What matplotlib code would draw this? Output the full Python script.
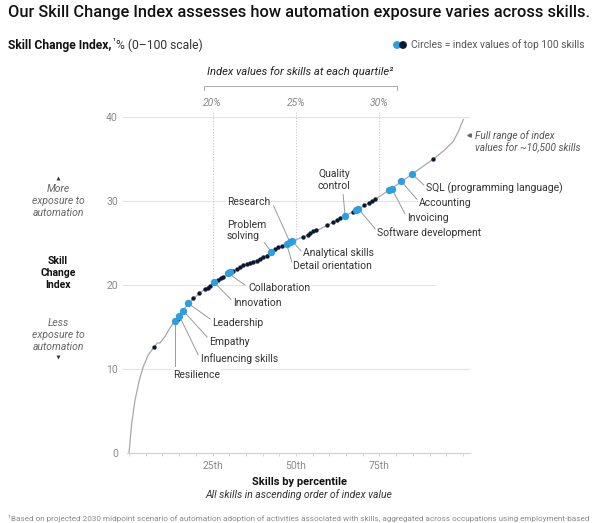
import matplotlib
matplotlib.use("Agg")
import matplotlib.pyplot as plt

plt.rcParams['font.family'] = ['Roboto', 'DejaVu Sans']

# ---- data ----
# full curve of index values (~10,500 skills), percentile -> index
curve_pct = [0, 0.8, 1.8, 3.1, 4.3, 5.8, 7.3, 8.5, 9.3, 10.8, 12.3, 13.8, 17.8, 21.0,
             25.5, 30.0, 35.2, 40.2, 45.7, 48.9, 53.5, 59.4, 64.7, 68.7, 73.7, 78.7,
             84.8, 91.1, 94.6, 97.1, 98.6, 100.1]
curve_val = [0, 3.5, 6.3, 8.7, 10.3, 11.7, 12.5, 13.1, 13.1, 13.9, 14.9, 15.75, 17.8, 19.0,
             20.3, 21.4, 22.5, 23.3, 24.6, 25.2, 25.95, 27.1, 28.25, 29.05, 30.2, 31.5,
             33.2, 35.0, 36.1, 37.1, 38.25, 39.7]

# top-100 skills without a label (dark dots)
dark_pct = [7.6, 14.8, 19.3, 21.0, 22.8, 23.6, 24.3, 26.7, 27.5, 28.2, 31.2, 32.3, 33.2,
            34.2, 35.2, 36.2, 37.2, 38.2, 39.2, 40.2, 41.2, 43.7, 44.7, 45.7, 52.2, 53.5,
            54.2, 55.2, 55.9, 59.4, 61.2, 62.2, 63.2, 67.2, 70.5, 71.9, 72.8, 73.7, 91.1]
dark_val = [12.6, 16.0, 18.4, 19.0, 19.5, 19.7, 19.9, 20.6, 20.8, 21.0, 21.7, 21.9, 22.2,
            22.35, 22.5, 22.6, 22.75, 22.9, 23.1, 23.3, 23.5, 24.25, 24.5, 24.65, 25.75, 25.95,
            26.25, 26.45, 26.55, 27.15, 27.55, 27.75, 27.95, 28.75, 29.5, 29.8, 30.05, 30.25, 35.0]

# top-100 skills highlighted (blue dots)
blue_pct = [13.8, 15.1, 16.3, 17.8, 25.5, 29.7, 30.2, 42.5, 47.2, 48.2, 48.9,
            64.7, 68.0, 68.7, 77.8, 78.7, 81.4, 84.8]
blue_val = [15.75, 16.3, 16.9, 17.8, 20.3, 21.4, 21.55, 23.96, 24.88, 25.08, 25.24,
            28.25, 28.93, 29.05, 31.3, 31.46, 32.4, 33.2]

# labelled skills and the dot each one points to
skill_names = ["Resilience", "Influencing skills", "Empathy", "Leadership", "Innovation",
               "Collaboration", "Problem\nsolving", "Research", "Analytical skills",
               "Detail orientation", "Quality\ncontrol", "Software development",
               "Invoicing", "Accounting", "SQL (programming language)"]
skill_pct = [13.8, 15.1, 16.3, 17.8, 25.5, 29.7, 42.5, 48.2, 48.9, 47.2, 64.7, 68.7, 78.7, 81.4, 84.8]
skill_val = [15.75, 16.3, 16.9, 17.8, 20.3, 21.4, 23.96, 25.08, 25.24, 24.88, 28.25, 29.05, 31.46, 32.4, 33.2]

quartile_pct = [25, 50, 75]
quartile_val = [20, 25, 30]
quartile_labels = ["20%", "25%", "30%"]
x_tick_labels = {25: "25th", 50: "50th", 75: "75th"}
y_ticks = [0, 10, 20, 30, 40]

# label layout: (text x, text y, leader end x, leader end y, ha)
label_layout = [
    (13.2, 9.3, 13.8, 10.4, 'left'),
    (21.6, 11.2, 20.7, 11.7, 'left'),
    (24.0, 13.2, 23.4, 13.8, 'left'),
    (24.9, 15.5, 24.3, 15.95, 'left'),
    (31.1, 17.9, 30.5, 18.3, 'left'),
    (35.6, 19.6, 34.7, 20.0, 'left'),
    (29.3, 26.5, 39.2, 25.8, 'left'),
    (29.3, 29.9, 43.3, 29.4, 'left'),
    (52.2, 23.8, 51.5, 24.05, 'left'),
    (49.2, 22.3, 48.8, 22.7, 'left'),
    (61.4, 32.5, 64.1, 30.8, 'center'),
    (74.3, 26.2, 73.7, 26.7, 'left'),
    (83.2, 28.0, 82.6, 28.5, 'left'),
    (86.8, 29.8, 86.2, 30.2, 'left'),
    (88.9, 31.5, 88.3, 31.9, 'left'),
]

BLUE = '#2a9fe3'
DARK = '#0b1a33'
GRID = '#e3e3e3'
TXT = '#333333'
MUTED = '#8a8a8a'

W, H = 600, 523


def fx(px):
    return px / W


def fy(py):
    return 1 - py / H


fig = plt.figure(figsize=(6, 5.23), dpi=100)
ax = fig.add_axes([fx(122), fy(453), 348 / W, 336 / H])
ax.set_xlim(-2.1, 102.1)
ax.set_ylim(0, 40)
for s in ['top', 'right', 'left']:
    ax.spines[s].set_visible(False)
ax.spines['bottom'].set_color('#cfcfcf')
ax.spines['bottom'].set_linewidth(0.8)
ax.spines['bottom'].set_bounds(-0.5, 102.1)

# grid lines
ax.hlines([10, 30, 40], -2.1, 102.1, color=GRID, lw=0.8, zorder=0)
ax.hlines(20, -2.1, 91.6, color=GRID, lw=0.8, zorder=0)

# quartile guides
for p, v, lab in zip(quartile_pct, quartile_val, quartile_labels):
    ax.plot([p, p], [40.6, v], color='#c8c8c8', lw=0.8, ls=(0, (1, 1.5)), zorder=0, clip_on=False)
    ax.text(p, 41.7, lab, ha='center', va='center', fontsize=7.5, style='italic',
            color=MUTED, clip_on=False)

# ticks
ax.set_xticks(range(0, 101, 5))
ax.set_xticklabels([x_tick_labels.get(t, '') for t in range(0, 101, 5)])
ax.tick_params(axis='x', length=2.5, width=0.6, color='#cfcfcf', labelsize=7.5,
               labelcolor=MUTED, pad=3)
ax.set_yticks(y_ticks)
ax.tick_params(axis='y', length=0, labelsize=7.5, labelcolor=MUTED, pad=3)

# curve and dots
ax.plot(curve_pct, curve_val, color='#a8a8a8', lw=0.9, zorder=2, clip_on=False)
ax.scatter(dark_pct, dark_val, s=10, color=DARK, lw=0, zorder=3)
ax.scatter(blue_pct, blue_val, s=28, color=BLUE, lw=0, zorder=4)

# labels with leader lines
for name, p, v, (tx, ty, lx, ly, ha) in zip(skill_names, skill_pct, skill_val, label_layout):
    ax.plot([p, lx], [v, ly], color='#9a9a9a', lw=0.7, zorder=1)
    ax.text(tx, ty, name, ha=ha, va='center', fontsize=7.5, color=TXT, linespacing=1.15,
            zorder=1.5, bbox=dict(facecolor='white', edgecolor='none', pad=1.0))

# full range note
ax.plot([101.8], [37.9], marker='<', ms=2.5, color='#666666', clip_on=False)
ax.text(103.6, 37.1, "Full range of index\nvalues for ~10,500 skills", ha='left', va='center',
        fontsize=7.2, style='italic', color='#555555', linespacing=1.2, clip_on=False)

# ---- figure text ----
fig.text(fx(8), fy(12), "Our Skill Change Index assesses how automation exposure varies across skills.",
         fontsize=11.8, weight='medium', color='#111111', va='center', ha='left')

renderer = fig.canvas.get_renderer()
t1 = fig.text(fx(8), fy(45), "Skill Change Index,", fontsize=8.7, weight='bold', color='#111111',
              va='center', ha='left')
x1 = t1.get_window_extent(renderer).x1
t2 = fig.text(x1 / W + 0.001, fy(42), "¹", fontsize=6, color='#111111', va='center', ha='left')
x2 = t2.get_window_extent(renderer).x1
fig.text(x2 / W + 0.002, fy(45), "% (0–100 scale)", fontsize=8.7, color='#333333',
         va='center', ha='left')

# legend
ax.scatter([fx(397), fx(403)], [fy(45), fy(45)], s=32, color=[BLUE, DARK], lw=0,
           transform=fig.transFigure, clip_on=False)
fig.text(fx(411), fy(45), "Circles = index values of top 100 skills", fontsize=7.4,
         color='#555555', va='center', ha='left')

# quartile header and bracket
fig.text(fx(300), fy(72), "Index values for skills at each quartile²", fontsize=8.1,
         style='italic', color='#222222', va='center', ha='center')
fig.add_artist(plt.Line2D([fx(204), fx(204), fx(397), fx(397)], [fy(90), fy(86), fy(86), fy(90)],
                          color='#aaaaaa', lw=0.7))

# left axis description
fig.text(fx(58), fy(201), "More\nexposure to\nautomation", fontsize=7.5, style='italic',
         color='#666666', ha='center', va='center', linespacing=1.25)
fig.text(fx(58), fy(273), "Skill\nChange\nIndex", fontsize=7.5, weight='bold',
         color='#111111', ha='center', va='center', linespacing=1.25)
fig.text(fx(58), fy(335), "Less\nexposure to\nautomation", fontsize=7.5, style='italic',
         color='#666666', ha='center', va='center', linespacing=1.25)
ax.scatter([fx(58)], [fy(178)], marker='^', s=8, color='#333333', lw=0,
           transform=fig.transFigure, clip_on=False)
ax.scatter([fx(58)], [fy(357)], marker='v', s=8, color='#333333', lw=0,
           transform=fig.transFigure, clip_on=False)

# x axis description
fig.text(fx(299), fy(482), "Skills by percentile", fontsize=8, weight='bold', color='#111111',
         ha='center', va='center')
fig.text(fx(299), fy(495), "All skills in ascending order of index value", fontsize=7.5,
         style='italic', color='#333333', ha='center', va='center')

fig.text(fx(8), fy(518), "¹Based on projected 2030 midpoint scenario of automation adoption of activities "
         "associated with skills, aggregated across occupations using employment-based",
         fontsize=5.9, color=MUTED, ha='left', va='center')

fig.savefig("out.png", dpi=100)
